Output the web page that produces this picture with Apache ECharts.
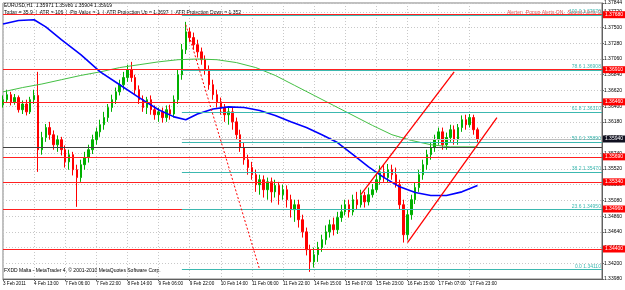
<!DOCTYPE html>
<html>
<head>
<meta charset="utf-8">
<script src="https://cdn.jsdelivr.net/npm/echarts@6/dist/echarts.min.js"></script>
<style>
  html, body { margin: 0; padding: 0; background: #fff; }
  #chart { width: 625px; height: 290px; }
</style>
</head>
<body>
<div id="chart"></div>
<script>
// EURUSD H1, one slot = 2 hours
const tickLabels = ['3 Feb 2011', '4 Feb 13:00', '7 Feb 06:00', '7 Feb 22:00', '8 Feb 14:00', '9 Feb 06:00',
  '9 Feb 22:00', '10 Feb 14:00', '11 Feb 06:00', '11 Feb 22:00', '14 Feb 15:00', '15 Feb 07:00',
  '15 Feb 23:00', '16 Feb 15:00', '17 Feb 07:00', '17 Feb 23:00'];
const slotCount = 155;

// [open, close, low, high]
const candles = [
  [1.3642,1.3649,1.3638,1.3655],[1.3649,1.3656,1.3645,1.3663],[1.3656,1.3646,1.3641,1.3660],[1.3646,1.3652,1.3642,1.3657],
  [1.3652,1.3635,1.3631,1.3655],[1.3635,1.3643,1.3629,1.3648],[1.3643,1.3632,1.3627,1.3649],[1.3632,1.3649,1.3629,1.3653],
  [1.3649,1.3655,1.3643,1.3663],[1.3655,1.3579,1.3548,1.3688],[1.3579,1.3596,1.3572,1.3604],[1.3596,1.3610,1.3590,1.3615],
  [1.3610,1.3600,1.3593,1.3618],[1.3600,1.3586,1.3579,1.3606],[1.3586,1.3593,1.3576,1.3599],[1.3593,1.3579,1.3571,1.3597],
  [1.3579,1.3562,1.3554,1.3585],[1.3562,1.3572,1.3551,1.3579],[1.3572,1.3551,1.3543,1.3576],[1.3551,1.3540,1.3499,1.3558],
  [1.3540,1.3558,1.3534,1.3565],[1.3558,1.3568,1.3551,1.3576],[1.3568,1.3579,1.3561,1.3586],[1.3579,1.3593,1.3573,1.3600],
  [1.3593,1.3604,1.3586,1.3610],[1.3604,1.3614,1.3597,1.3621],[1.3614,1.3624,1.3607,1.3632],[1.3624,1.3638,1.3618,1.3643],
  [1.3638,1.3649,1.3632,1.3656],[1.3649,1.3660,1.3643,1.3666],[1.3660,1.3670,1.3655,1.3677],[1.3670,1.3680,1.3663,1.3688],
  [1.3680,1.3691,1.3674,1.3698],[1.3691,1.3680,1.3674,1.3702],[1.3680,1.3663,1.3657,1.3684],[1.3663,1.3649,1.3643,1.3669],
  [1.3649,1.3638,1.3632,1.3655],[1.3638,1.3649,1.3629,1.3653],[1.3649,1.3635,1.3628,1.3655],[1.3635,1.3628,1.3621,1.3641],
  [1.3628,1.3632,1.3618,1.3638],[1.3632,1.3624,1.3617,1.3638],[1.3624,1.3635,1.3618,1.3641],[1.3635,1.3629,1.3621,1.3642],
  [1.3629,1.3649,1.3624,1.3655],[1.3649,1.3684,1.3643,1.3691],[1.3684,1.3719,1.3677,1.3727],[1.3719,1.3744,1.3713,1.3758],
  [1.3744,1.3736,1.3730,1.3750],[1.3736,1.3726,1.3719,1.3743],[1.3726,1.3716,1.3708,1.3733],[1.3716,1.3705,1.3698,1.3722],
  [1.3705,1.3691,1.3684,1.3711],[1.3691,1.3670,1.3663,1.3697],[1.3670,1.3656,1.3649,1.3677],[1.3656,1.3646,1.3638,1.3663],
  [1.3646,1.3638,1.3628,1.3652],[1.3638,1.3628,1.3618,1.3643],[1.3628,1.3632,1.3614,1.3638],[1.3632,1.3618,1.3607,1.3638],
  [1.3618,1.3600,1.3593,1.3624],[1.3600,1.3582,1.3576,1.3607],[1.3582,1.3565,1.3558,1.3589],[1.3565,1.3554,1.3544,1.3572],
  [1.3554,1.3544,1.3537,1.3562],[1.3544,1.3530,1.3520,1.3551],[1.3530,1.3537,1.3516,1.3544],[1.3537,1.3523,1.3512,1.3543],
  [1.3523,1.3534,1.3509,1.3540],[1.3534,1.3520,1.3505,1.3540],[1.3520,1.3529,1.3512,1.3537],[1.3529,1.3516,1.3502,1.3534],
  [1.3516,1.3523,1.3509,1.3530],[1.3523,1.3509,1.3498,1.3529],[1.3509,1.3495,1.3484,1.3516],[1.3495,1.3502,1.3478,1.3509],
  [1.3502,1.3481,1.3470,1.3509],[1.3481,1.3464,1.3456,1.3488],[1.3464,1.3439,1.3431,1.3470],[1.3439,1.3422,1.3408,1.3446],
  [1.3422,1.3432,1.3414,1.3442],[1.3432,1.3442,1.3422,1.3450],[1.3442,1.3453,1.3436,1.3460],[1.3453,1.3464,1.3446,1.3473],
  [1.3464,1.3474,1.3456,1.3481],[1.3474,1.3467,1.3459,1.3484],[1.3467,1.3484,1.3461,1.3492],[1.3484,1.3492,1.3478,1.3502],
  [1.3492,1.3502,1.3487,1.3509],[1.3502,1.3492,1.3484,1.3509],[1.3492,1.3509,1.3487,1.3516],[1.3509,1.3502,1.3495,1.3520],
  [1.3502,1.3515,1.3498,1.3523],[1.3515,1.3506,1.3498,1.3520],[1.3506,1.3516,1.3501,1.3526],[1.3516,1.3523,1.3512,1.3531],
  [1.3523,1.3537,1.3519,1.3545],[1.3537,1.3548,1.3530,1.3557],[1.3548,1.3540,1.3534,1.3558],[1.3540,1.3551,1.3533,1.3559],
  [1.3551,1.3544,1.3537,1.3558],[1.3544,1.3530,1.3526,1.3554],[1.3530,1.3502,1.3495,1.3537],[1.3502,1.3460,1.3449,1.3509],
  [1.3460,1.3488,1.3453,1.3495],[1.3488,1.3509,1.3481,1.3516],[1.3509,1.3526,1.3503,1.3533],[1.3526,1.3544,1.3520,1.3551],
  [1.3544,1.3558,1.3537,1.3565],[1.3558,1.3572,1.3551,1.3579],[1.3572,1.3582,1.3565,1.3590],[1.3582,1.3593,1.3576,1.3600],
  [1.3593,1.3604,1.3586,1.3610],[1.3604,1.3586,1.3579,1.3610],[1.3586,1.3596,1.3579,1.3603],[1.3596,1.3607,1.3590,1.3614],
  [1.3607,1.3593,1.3586,1.3613],[1.3593,1.3610,1.3586,1.3615],[1.3610,1.3621,1.3604,1.3627],[1.3621,1.3614,1.3607,1.3628],
  [1.3614,1.3624,1.3610,1.3629],[1.3624,1.3607,1.3600,1.3628],[1.3607,1.3594,1.3589,1.3610]
];

// moving averages, [slot, value]
const maBlue = [[0,1.3755],[4,1.3760],[8,1.3761],[11,1.3751],[15,1.3733],[20,1.3712],[25,1.3688],[30,1.3670],
  [35,1.3652],[40,1.3635],[44,1.3625],[47,1.3621],[50,1.3629],[54,1.3636],[58,1.3639],[62,1.3638],[66,1.3634],
  [70,1.3627],[74,1.3618],[78,1.3610],[82,1.3600],[86,1.3589],[90,1.3572],[94,1.3555],[98,1.3540],[102,1.3527],
  [106,1.3519],[110,1.3515],[114,1.3515],[118,1.3520],[122,1.3529]];
const maGreen = [[0,1.3660],[5,1.3666],[10,1.3671],[15,1.3677],[20,1.3683],[25,1.3688],[30,1.3694],[35,1.3698],
  [40,1.3702],[45,1.3705],[50,1.3706],[55,1.3705],[60,1.3701],[65,1.3694],[70,1.3683],[75,1.3669],[80,1.3655],
  [85,1.3641],[90,1.3627],[95,1.3613],[100,1.3600],[105,1.3592],[110,1.3586],[115,1.3583],[122,1.3583]];

// horizontal levels
const pivotLevels = [1.3768, 1.3691, 1.3646, 1.3569, 1.3534, 1.3496, 1.3440];
const pivotStart = [0, 0, 0, 0, 0, 0, 0];
const baseLine = 1.3583;
const fibRatios = [0, 23.6, 38.2, 50, 61.8, 78.6, 100];
const fibLow = 1.3411, fibHigh = 1.3767, fibStart = 46;
const trendLines = [
  { from: [47, 1.3754], to: [66, 1.3411], dashed: true },
  { from: [92, 1.3516], to: [116, 1.3688], dashed: false },
  { from: [104, 1.3449], to: [127, 1.3624], dashed: false }
];

const categories = [];
for (let i = 0; i < slotCount; i++) {
  categories.push(i % 8 === 0 && i / 8 < tickLabels.length ? tickLabels[i / 8] : '');
}
const lastSlot = slotCount - 1;
const lastClose = candles[candles.length - 1][1];
const FONT = 'Liberation Sans';

const marks = [];
pivotLevels.forEach((v, k) => {
  marks.push([
    { coord: [pivotStart[k], v], lineStyle: { color: '#ff2020', width: 1.2, type: 'solid' },
      label: { show: true, position: 'end', formatter: v.toFixed(5), backgroundColor: '#ff0000', color: '#fff',
        fontSize: 5, fontFamily: FONT, padding: [1, 2], distance: 1 } },
    { coord: [lastSlot, v] }
  ]);
});
fibRatios.forEach(r => {
  const v = fibLow + (fibHigh - fibLow) * r / 100;
  marks.push([
    { coord: [fibStart, v], lineStyle: { color: '#3cb8b0', width: 1, type: 'solid' },
      label: { show: true, position: 'insideEndTop', formatter: r.toFixed(1) + ' ' + v.toFixed(5), color: '#3cb8b0',
        fontSize: 5, fontFamily: FONT, distance: 1 } },
    { coord: [lastSlot, v] }
  ]);
});
marks.push([
  { coord: [0, baseLine], lineStyle: { color: '#404040', width: 1, type: 'solid' }, label: { show: false } },
  { coord: [lastSlot, baseLine] }
]);
marks.push([
  { coord: [fibStart, lastClose], lineStyle: { color: '#c0c0c0', width: 1, type: 'solid' },
    label: { show: true, position: 'end', formatter: lastClose.toFixed(5), backgroundColor: '#101020', color: '#fff',
      fontSize: 5, fontFamily: FONT, padding: [1, 2], distance: 1 } },
  { coord: [lastSlot, lastClose] }
]);
trendLines.forEach(t => {
  marks.push([
    { coord: t.from, lineStyle: { color: '#ff0000', width: t.dashed ? 1 : 1.3, type: t.dashed ? [2, 2] : 'solid' },
      label: { show: false } },
    { coord: t.to }
  ]);
});

const chart = echarts.init(document.getElementById('chart'), null, { renderer: 'canvas' });
chart.setOption({
  animation: false,
  backgroundColor: '#fff',
  grid: { left: 2, right: 18, top: 3, bottom: 11, show: true, borderColor: '#808080', borderWidth: 1 },
  xAxis: {
    type: 'category', data: categories, boundaryGap: false,
    axisLine: { show: true, lineStyle: { color: '#606060' } },
    axisTick: { show: true, length: 2, interval: (i, v) => v !== '', lineStyle: { color: '#606060' } },
    axisLabel: { show: true, interval: (i, v) => v !== '', align: 'left', fontSize: 4.6, fontFamily: FONT,
      color: '#000', margin: 2 },
    splitLine: { show: true, interval: (i, v) => v !== '', lineStyle: { color: '#c8c8c8', type: [1, 2] } }
  },
  yAxis: {
    type: 'value', position: 'right', scale: true, min: 1.3398, max: 1.37844, interval: 0.0022,
    axisLine: { show: true, lineStyle: { color: '#606060' } },
    axisTick: { show: true, length: 2 },
    axisLabel: { fontSize: 5, fontFamily: FONT, color: '#000', margin: 2, formatter: v => v.toFixed(5) },
    splitLine: { show: true, lineStyle: { color: '#c8c8c8', type: [1, 2] } }
  },
  series: [
    {
      type: 'candlestick', data: candles, barWidth: 2,
      itemStyle: { color: '#00b000', color0: '#ff0000', borderColor: '#00b000', borderColor0: '#ff0000', borderWidth: 1 },
      markLine: { silent: true, symbol: 'none', animation: false, data: marks }
    },
    { type: 'line', data: maGreen, showSymbol: false, symbol: 'none', lineStyle: { color: '#44c044', width: 1 }, z: 3 },
    { type: 'line', data: maBlue, showSymbol: false, symbol: 'none', lineStyle: { color: '#0000ff', width: 1.6 }, z: 4 }
  ],
  graphic: [
    { type: 'text', left: 4, top: 3, style: { text: 'EURUSD,H1  1.35971 1.35980 1.35904 1.35919', fontSize: 5, fontFamily: FONT, fill: '#000' } },
    { type: 'text', left: 4, top: 10, style: { text: 'Today = 35.9  |  ATR = 106  |  Pip Value = 1  |  ATR Projection Up = 1.3697  |  ATR Projection Down = 1.352', fontSize: 5, fontFamily: FONT, fill: '#000' } },
    { type: 'text', right: 20, top: 10, style: { text: 'Alerter:  Popup Alerts ON,  Sound Alerts ON', fontSize: 5, fontFamily: FONT, fill: '#e05050' } },
    { type: 'text', left: 4, top: 268, style: { text: 'FXDD Malta - MetaTrader 4, \u00a9 2001-2010 MetaQuotes Software Corp.', fontSize: 5, fontFamily: FONT, fill: '#000' } }
  ]
});
</script>
</body>
</html>
